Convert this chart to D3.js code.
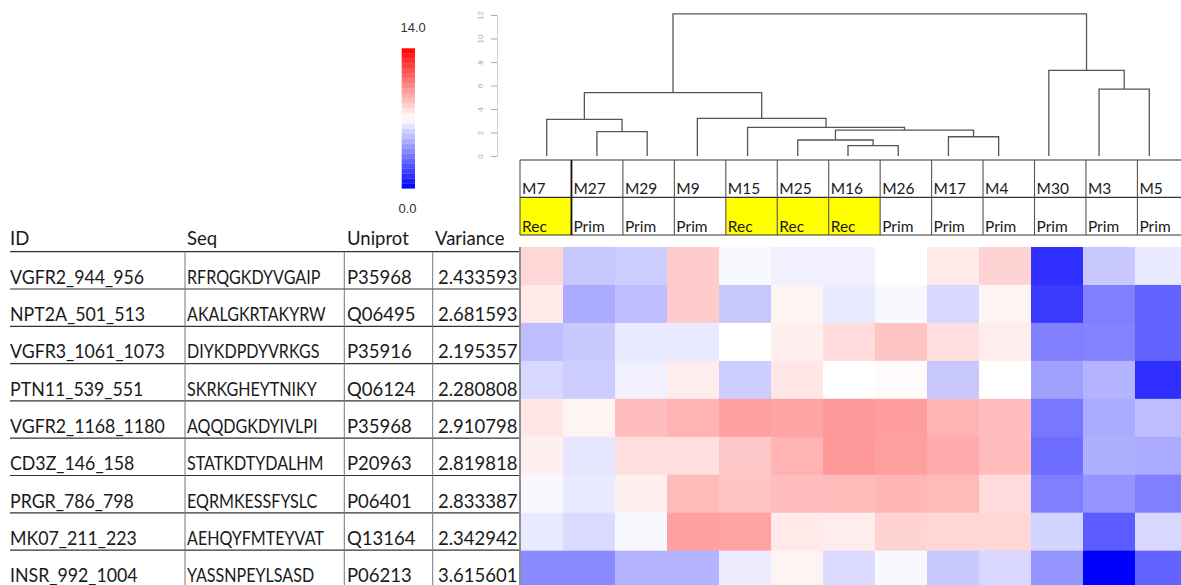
<!DOCTYPE html>
<html>
<head>
<meta charset="utf-8">
<script src="https://cdn.jsdelivr.net/npm/d3@7"></script>
<style>
  html, body { margin: 0; padding: 0; background: #fff; }
  svg { display: block; font-family: Lato, "Open Sans", sans-serif; }
</style>
</head>
<body>
<svg id="chart" width="1181" height="585"></svg>
<script>
// ---------------- data ----------------
const samples = ["M7","M27","M29","M9","M15","M25","M16","M26","M17","M4","M30","M3","M5"];
const groups  = ["Rec","Prim","Prim","Prim","Rec","Rec","Rec","Prim","Prim","Prim","Prim","Prim","Prim"];

const ids       = ["VGFR2_944_956","NPT2A_501_513","VGFR3_1061_1073","PTN11_539_551","VGFR2_1168_1180","CD3Z_146_158","PRGR_786_798","MK07_211_223","INSR_992_1004"];
const seqs      = ["RFRQGKDYVGAIP","AKALGKRTAKYRW","DIYKDPDYVRKGS","SKRKGHEYTNIKY","AQQDGKDYIVLPI","STATKDTYDALHM","EQRMKESSFYSLC","AEHQYFMTEYVAT","YASSNPEYLSASD"];
const uniprots  = ["P35968","Q06495","P35916","Q06124","P35968","P20963","P06401","Q13164","P06213"];
const variances = ["2.433593","2.681593","2.195357","2.280808","2.910798","2.819818","2.833387","2.342942","3.615601"];
const tableHeaders = ["ID","Seq","Uniprot","Variance"];

// heatmap values (rows = peptides, columns = samples in the order above)
const rowVGFR2_944  = [8.1, 5.5, 5.6, 8.4, 6.8, 6.6, 6.6, 7.0, 7.6, 8.2, 1.3, 5.5, 6.4];
const rowNPT2A      = [7.6, 4.7, 5.2, 8.4, 5.5, 7.3, 6.4, 6.8, 5.9, 7.3, 1.6, 3.5, 2.7];
const rowVGFR3      = [5.2, 5.5, 6.4, 6.4, 7.0, 7.4, 8.0, 8.6, 7.9, 7.5, 3.5, 3.6, 2.7];
const rowPTN11      = [5.9, 5.6, 6.6, 7.5, 5.6, 7.7, 7.0, 7.1, 5.5, 7.0, 4.4, 4.9, 1.3];
const rowVGFR2_1168 = [7.7, 7.3, 8.8, 9.1, 9.6, 9.5, 9.8, 9.7, 9.1, 8.8, 3.3, 4.7, 5.2];
const rowCD3Z       = [7.4, 6.3, 7.9, 7.9, 8.5, 9.1, 9.8, 9.6, 9.3, 8.8, 3.0, 4.8, 4.7];
const rowPRGR       = [6.8, 6.4, 7.4, 8.9, 8.6, 8.8, 8.9, 9.0, 8.9, 8.0, 3.5, 4.1, 3.5];
const rowMK07       = [6.4, 6.0, 6.8, 9.6, 9.5, 7.6, 7.5, 8.2, 8.1, 8.1, 5.8, 2.5, 5.9];
const rowINSR       = [3.8, 3.8, 4.9, 4.9, 6.5, 7.3, 6.0, 6.8, 5.5, 5.9, 4.1, 0.0, 2.7];
const heatRows = [rowVGFR2_944, rowNPT2A, rowVGFR3, rowPTN11, rowVGFR2_1168, rowCD3Z, rowPRGR, rowMK07, rowINSR];

// dendrogram merges (strings = leaves, numbers = earlier merge index)
const mergeLeft   = ["M16", "M25", "M17", "M27", 1,    "M15", "M7", "M9", 6,    "M3", "M30", 8];
const mergeRight  = ["M26", 0,     "M4",  "M29", 2,    4,     3,    5,    7,    "M5", 9,     10];
const mergeHeight = [0.88,  1.36,  1.64,  2.07,  2.21, 2.44,  3.12, 3.21, 5.39, 5.70, 7.29,  12.09];
const dendroTicks = [0, 2, 4, 6, 8, 10, 12];

const legendMin = 0, legendMid = 7, legendMax = 14;
const legendLabels = ["14.0", "0.0"];

// ---------------- drawing ----------------
const svg = d3.select("#chart");
svg.append("rect").attr("width", 1181).attr("height", 585).attr("fill", "#fff");

const color = d3.scaleLinear()
  .domain([legendMin, legendMid, legendMax])
  .range(["#0000ff", "#ffffff", "#ff0000"]);

// ---- heatmap ----
const hx = d3.scaleBand().domain(samples).range([511, 511 + 13 * 52]);
const hy = d3.scaleBand().domain(ids).range([247, 247 + 9 * 37.96]);

svg.append("clipPath").attr("id", "hclip")
  .append("rect").attr("x", 521).attr("y", 0).attr("width", 700).attr("height", 600);

const hm = svg.append("g").attr("clip-path", "url(#hclip)");
ids.forEach((id, r) => {
  hm.selectAll(null).data(heatRows[r]).enter().append("rect")
    .attr("x", (d, c) => hx(samples[c]))
    .attr("y", hy(id))
    .attr("width", hx.bandwidth() + 0.5)
    .attr("height", hy.bandwidth() + 0.5)
    .attr("fill", d => color(d));
});

// ---- table ----
const tableTop = 251.7, rowStep = 37.3;
const ty = d3.scaleLinear().domain([0, 9]).range([tableTop, tableTop + 9 * rowStep]);
const tbl = svg.append("g").style("font-size", "18.5px").attr("fill", "#1a1a1a");

// header labels
const colX = [10, 187, 347, 435];
tableHeaders.forEach((h, i) => {
  tbl.append("text").attr("x", colX[i]).attr("y", tableTop - 6.5).text(h);
});
// horizontal lines
d3.range(0, 9).forEach(i => {
  tbl.append("line").attr("x1", 10).attr("x2", 519)
    .attr("y1", ty(i)).attr("y2", ty(i))
    .attr("stroke", "#333").attr("stroke-width", 1.2);
});
// vertical lines
[185, 344.3, 432.7].forEach(x => {
  tbl.append("line").attr("x1", x).attr("x2", x)
    .attr("y1", tableTop).attr("y2", 585)
    .attr("stroke", "#777").attr("stroke-width", 1);
});
svg.append("line").attr("x1", 520).attr("x2", 520).attr("y1", 247).attr("y2", 585)
  .attr("stroke", "#444").attr("stroke-width", 1.2);

ids.forEach((id, i) => {
  const by = ty(i + 1) - 5.3;
  tbl.append("text").attr("transform", `translate(${colX[0]},${by}) scale(0.96,1)`).text(id);
  tbl.append("text").attr("transform", `translate(${colX[1]},${by}) scale(0.87,1)`).text(seqs[i]);
  tbl.append("text").attr("x", colX[2]).attr("y", by).text(uniprots[i]);
  tbl.append("text").attr("x", 517.5).attr("y", by).attr("text-anchor", "end").text(variances[i]);
});

// ---- column header cells ----
const cx = d3.scaleBand().domain(samples).range([520, 520 + 13 * 51.45]);
const hdr = svg.append("g");
samples.forEach((s, i) => {
  if (groups[i] === "Rec") {
    hdr.append("rect").attr("x", cx(s)).attr("y", 197.3)
      .attr("width", cx.bandwidth()).attr("height", 37.7).attr("fill", "#ffff00");
  }
});
[160, 197.3, 235].forEach(y => {
  hdr.append("line").attr("x1", 520).attr("x2", 1181).attr("y1", y).attr("y2", y)
    .attr("stroke", "#333").attr("stroke-width", 1.2);
});
samples.forEach((s, i) => {
  hdr.append("line").attr("x1", cx(s)).attr("x2", cx(s)).attr("y1", 160).attr("y2", 235)
    .attr("stroke", i === 1 ? "#111" : "#555").attr("stroke-width", i === 1 ? 1.8 : 1.1);
  hdr.append("text").attr("x", cx(s) + 2).attr("y", 194.3)
    .style("font-size", "15.5px").attr("fill", "#1a1a1a").text(s);
  hdr.append("text").attr("x", cx(s) + 2).attr("y", 231.7)
    .style("font-size", "15.5px").attr("fill", "#1a1a1a").text(groups[i]);
});

// ---- dendrogram ----
const dx = d3.scalePoint().domain(samples).range([546.7, 1149.3]);
const dy = d3.scaleLinear().domain([0, 12]).range([156, 15]);
const nodeX = [], nodeH = [];
const getX = ref => typeof ref === "string" ? dx(ref) : nodeX[ref];
const getH = ref => typeof ref === "string" ? 0 : nodeH[ref];
const dg = svg.append("g");
mergeHeight.forEach((h, k) => {
  const xl = getX(mergeLeft[k]), xr = getX(mergeRight[k]);
  const hl = getH(mergeLeft[k]), hr = getH(mergeRight[k]);
  nodeX[k] = (xl + xr) / 2;
  nodeH[k] = h;
  const p = d3.path();
  p.moveTo(xl, dy(hl)); p.lineTo(xl, dy(h)); p.lineTo(xr, dy(h)); p.lineTo(xr, dy(hr));
  dg.append("path").attr("d", p.toString()).attr("fill", "none")
    .attr("stroke", "#555").attr("stroke-width", 1.3);
});

// dendrogram axis
const ax = svg.append("g").attr("transform", "translate(497,0)")
  .call(d3.axisLeft(dy).tickValues(dendroTicks).tickSize(6).tickSizeOuter(0));
ax.select(".domain").attr("stroke", "#ccc");
ax.selectAll(".tick line").attr("stroke", "#aaa");
ax.selectAll(".tick text")
  .attr("fill", "#aaa").style("font-size", "8px")
  .attr("text-anchor", "middle")
  .attr("x", 0).attr("dy", 0)
  .attr("transform", "translate(-14,0) rotate(-90)");

// ---- colour legend ----
const ly = d3.scaleLinear().domain([legendMax, legendMin]).range([48.3, 188.3]);
const steps = d3.range(legendMin, legendMax, 0.5);
svg.append("g").selectAll("rect").data(steps).enter().append("rect")
  .attr("x", 401.7).attr("width", 13.3)
  .attr("y", d => ly(d + 0.5)).attr("height", d => ly(d) - ly(d + 0.5) + 0.3)
  .attr("fill", d => color(d + 0.25));
svg.append("text").attr("x", 400.5).attr("y", 32.3)
  .style("font-family", "'Liberation Sans', Arial, sans-serif").style("font-size", "13px")
  .attr("fill", "#333").text(legendLabels[0]);
svg.append("text").attr("x", 398.5).attr("y", 213.3)
  .style("font-family", "'Liberation Sans', Arial, sans-serif").style("font-size", "13px")
  .attr("fill", "#333").text(legendLabels[1]);
</script>
</body>
</html>
